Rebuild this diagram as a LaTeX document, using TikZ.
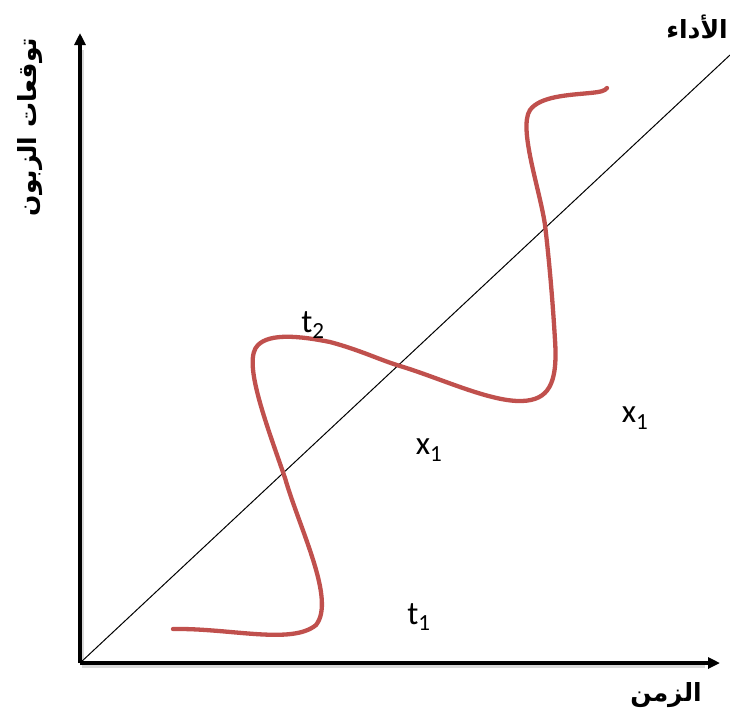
\documentclass[tikz,border=0pt]{standalone}
\usepackage{fontspec}
\setmainfont{Carlito}
\newfontfamily\arabicfont[Script=Arabic]{DejaVu Sans}
\TeXXeTstate=1
\usetikzlibrary{arrows.meta}
\definecolor{curvered}{RGB}{192,80,77}
\tikzset{
  axis/.style={line width=3.5pt,black,-{Triangle[length=12pt,width=11pt]}},
  axshadow/.style={line width=3.5pt,black!15},
  wave/.style={line width=4.3pt,curvered,line cap=round,line join=round},
  lbl/.style={font=\fontsize{33}{38}\selectfont,inner sep=0pt},
  arlbl/.style={font=\fontsize{25}{30}\selectfont\arabicfont\bfseries,inner sep=0pt}
}
\begin{document}
\begin{tikzpicture}[x=1pt,y=-1pt]
\useasboundingbox (0,0) rectangle (730,713);
\coordinate (O) at (80,663);
\coordinate (Ytop) at (80,33);
\coordinate (Xend) at (720,663);
\coordinate (Dend) at (730,55);
% shadows
\draw[axshadow] (82,665) -- (82,50);
\draw[axshadow] (82,666) -- (705,666);
% diagonal
\draw[line width=1pt] (O) -- (Dend);
% axes
\draw[axis] (O) -- (Ytop);
\draw[axis] (O) -- (Xend);
% wave
\draw[wave] (173,629) .. controls (230,628) and (292,645) .. (316,625)
  .. controls (336,600) and (300,530) .. (285,478)
  .. controls (265,420) and (242,360) .. (258,345)
  .. controls (270,333) and (300,336) .. (330,342)
  .. controls (360,350) and (380,360) .. (400,366)
  .. controls (440,378) and (490,402) .. (522,401)
  .. controls (548,400) and (558,385) .. (555,340)
  .. controls (552,290) and (548,250) .. (545,225)
  .. controls (540,190) and (518,128) .. (530,110)
  .. controls (540,96) and (570,95) .. (590,93)
  .. controls (600,92) and (605,91) .. (607,88);
% labels
\node[lbl] (t2) at (313,325) {t\textsubscript{2}};
\node[lbl] (x1a) at (429,450) {x\textsubscript{1}};
\node[lbl] (t1) at (419,617) {t\textsubscript{1}};
\node[lbl] (x1b) at (635,418) {x\textsubscript{1}};
\node[arlbl] (perf) at (697,27) {\beginR الأداء\endR};
\node[arlbl] (time) at (666,695) {\beginR الزمن\endR};
\node[arlbl,rotate=90] (expect) at (30,127) {\beginR توقعات الزبون\endR};
\end{tikzpicture}
\end{document}
